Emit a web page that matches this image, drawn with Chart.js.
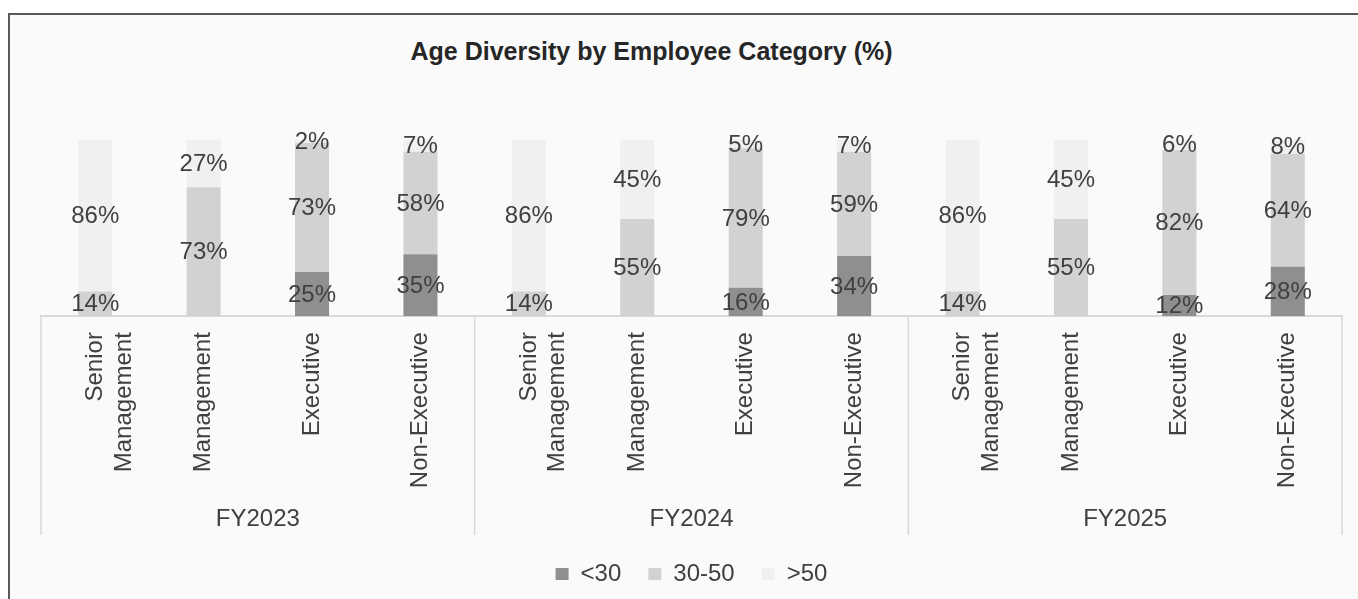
<!DOCTYPE html>
<html>
<head>
<meta charset="utf-8">
<script src="https://cdn.jsdelivr.net/npm/chart.js@4.4.1/dist/chart.umd.min.js"></script>
<style>
  html, body { margin: 0; padding: 0; background: #ffffff; overflow: hidden; width: 1358px; height: 599px; }
  #frame {
    position: absolute; left: 8px; top: 13px;
    width: 1350px; height: 600px;
    border-left: 2px solid #595959; border-top: 2px solid #595959;
    background: #fafafa; overflow: hidden;
  }
  #title {
    position: absolute; left: 0; top: 24px; width: 1283px;
    text-align: center; font: bold 25px "Liberation Sans", Arial, sans-serif;
    line-height: 25px; color: #262626;
  }
  #chart { position: absolute; left: 0; top: 0; }
</style>
</head>
<body>
<div id="frame">
  <div id="title">Age Diversity by Employee Category (%)</div>
  <canvas id="chart" width="1348" height="581"></canvas>
</div>
<script>
// Fiscal years and employee categories
const groups = ['FY2023', 'FY2024', 'FY2025'];
const categories = [['Senior', 'Management'], 'Management', 'Executive', 'Non-Executive'];

// Share of employees by age band (%), FY2023..FY2025, in category order
const under30  = [0, 0, 25, 35,   0, 0, 16, 34,   0, 0, 12, 28];
const age30to50 = [14, 73, 73, 58, 14, 55, 79, 59, 14, 55, 82, 64];
const over50   = [86, 27, 2, 7,   86, 45, 5, 7,   86, 45, 6, 8];

const seriesNames = ['<30', '30-50', '>50'];
const seriesColors = ['#8f8f8f', '#d2d2d2', '#eff0f2'];

const labels = [];
groups.forEach(() => categories.forEach(c => labels.push(c)));

const FONT = '"Liberation Sans", Arial, sans-serif';
const TEXT = '#404040';

// Percent labels centred inside each stacked segment
const segmentLabels = {
  id: 'segmentLabels',
  afterDatasetsDraw(chart) {
    const ctx = chart.ctx;
    ctx.save();
    ctx.font = '24px ' + FONT;
    ctx.fillStyle = TEXT;
    ctx.textAlign = 'center';
    ctx.textBaseline = 'middle';
    chart.data.datasets.forEach((ds, di) => {
      const meta = chart.getDatasetMeta(di);
      meta.data.forEach((bar, i) => {
        const v = ds.data[i];
        if (!v) return;
        const p = bar.getCenterPoint();
        ctx.fillText(v + '%', p.x, p.y + 1);
      });
    });
    ctx.restore();
  }
};

// Vertical separators between fiscal-year groups, spanning both axis levels
const groupSeparators = {
  id: 'groupSeparators',
  afterDraw(chart) {
    const x = chart.scales.x, x2 = chart.scales.x2;
    const n = categories.length;
    const ctx = chart.ctx;
    ctx.save();
    ctx.strokeStyle = '#d9d9d9';
    ctx.lineWidth = 1.5;
    for (let g = 0; g <= groups.length; g++) {
      const px = x.getPixelForValue(g * n - 0.5);
      ctx.beginPath();
      ctx.moveTo(px, x.top);
      ctx.lineTo(px, x2.bottom);
      ctx.stroke();
    }
    ctx.restore();
  }
};

new Chart(document.getElementById('chart'), {
  type: 'bar',
  data: {
    labels: labels,
    datasets: [
      { label: seriesNames[0], data: under30,   backgroundColor: seriesColors[0] },
      { label: seriesNames[1], data: age30to50, backgroundColor: seriesColors[1] },
      { label: seriesNames[2], data: over50,    backgroundColor: seriesColors[2] }
    ]
  },
  options: {
    responsive: false,
    animation: false,
    barPercentage: 0.314,
    categoryPercentage: 1,
    layout: { padding: { left: 31, right: 16, top: 124.5, bottom: 0 } },
    scales: {
      x: {
        stacked: true,
        grid: { display: false, drawTicks: false },
        border: { display: true, color: '#d9d9d9', width: 2 },
        ticks: {
          autoSkip: false, minRotation: 90, maxRotation: 90,
          padding: 16, color: TEXT, font: { family: FONT, size: 24 }
        }
      },
      x2: {
        type: 'category',
        position: 'bottom',
        labels: groups,
        offset: true,
        grid: { display: false, drawTicks: false },
        border: { display: false },
        ticks: { padding: 1, color: TEXT, font: { family: FONT, size: 24 } }
      },
      y: { stacked: true, display: false, min: 0, max: 100 }
    },
    plugins: {
      title: { display: false },
      tooltip: { enabled: false },
      legend: {
        position: 'bottom',
        labels: {
          boxWidth: 13, boxHeight: 12, padding: 27,
          color: TEXT, font: { family: FONT, size: 24 }
        }
      }
    }
  },
  plugins: [segmentLabels, groupSeparators]
});
</script>
</body>
</html>
